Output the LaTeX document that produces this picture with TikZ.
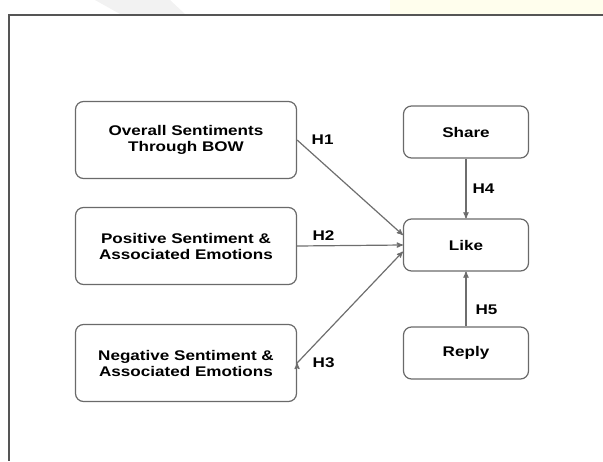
\documentclass[tikz,border=0pt]{standalone}
\usepackage{fontspec}
\setmainfont{Liberation Sans}
\newfontfamily\boxfont[FakeStretch=1.22]{Liberation Sans}
\usetikzlibrary{arrows,positioning}

\definecolor{boxgray}{HTML}{6A6A6A}
\definecolor{arrowgray}{HTML}{6E6E6E}
\definecolor{framegray}{HTML}{555555}

\begin{document}
\begin{tikzpicture}[x=1pt,y=-1pt,>=stealth',node distance=106pt,
  factor/.style={draw=boxgray,line width=1.2pt,rounded corners=8pt,
    minimum width=221pt,minimum height=77pt,align=center,
    font=\boxfont\bfseries\fontsize{14}{16}\selectfont},
  outcome/.style={factor,minimum width=125pt,minimum height=52pt},
  hlabel/.style={inner sep=0pt,font=\boxfont\bfseries\fontsize{14}{16}\selectfont}]
  \useasboundingbox (0,0) rectangle (603,461);
  % faint page background at the top
  \fill[black!5] (95,0) -- (170,0) -- (185,14) -- (120,14) -- cycle;
  \fill[yellow!7] (390,0) rectangle (603,14);
  \draw[framegray,line width=2pt] (603,15) -- (9,15) -- (9,461);

  \node[factor] (overall) at (186,140) {Overall Sentiments\\Through BOW};
  \node[factor] (positive) [below of=overall] {Positive Sentiment \&\\Associated Emotions};
  \node[factor] (negative) [below of=positive,node distance=117pt] {Negative Sentiment \&\\Associated Emotions};

  \node[outcome] (like) at (466,245) {Like};
  \node[outcome] (share) [above of=like,node distance=113pt] {Share};
  \node[outcome] (reply) [below of=like,node distance=108pt] {Reply};

  \path[->,draw=arrowgray,line width=1.2pt]
    (overall.east)  edge node[hlabel,at start,anchor=west,xshift=14pt] {H1} (like.171)
    (positive.east) edge node[hlabel,pos=0.25,above=5pt] {H2} (like.west)
    (negative.east) edge node[hlabel,at start,anchor=west,xshift=15pt] {H3} (like.186)
    (share)         edge node[hlabel,right=6pt] {H4} (like)
    (reply)         edge node[hlabel,pos=0.3,right=9pt] {H5} (like);
\end{tikzpicture}
\end{document}
